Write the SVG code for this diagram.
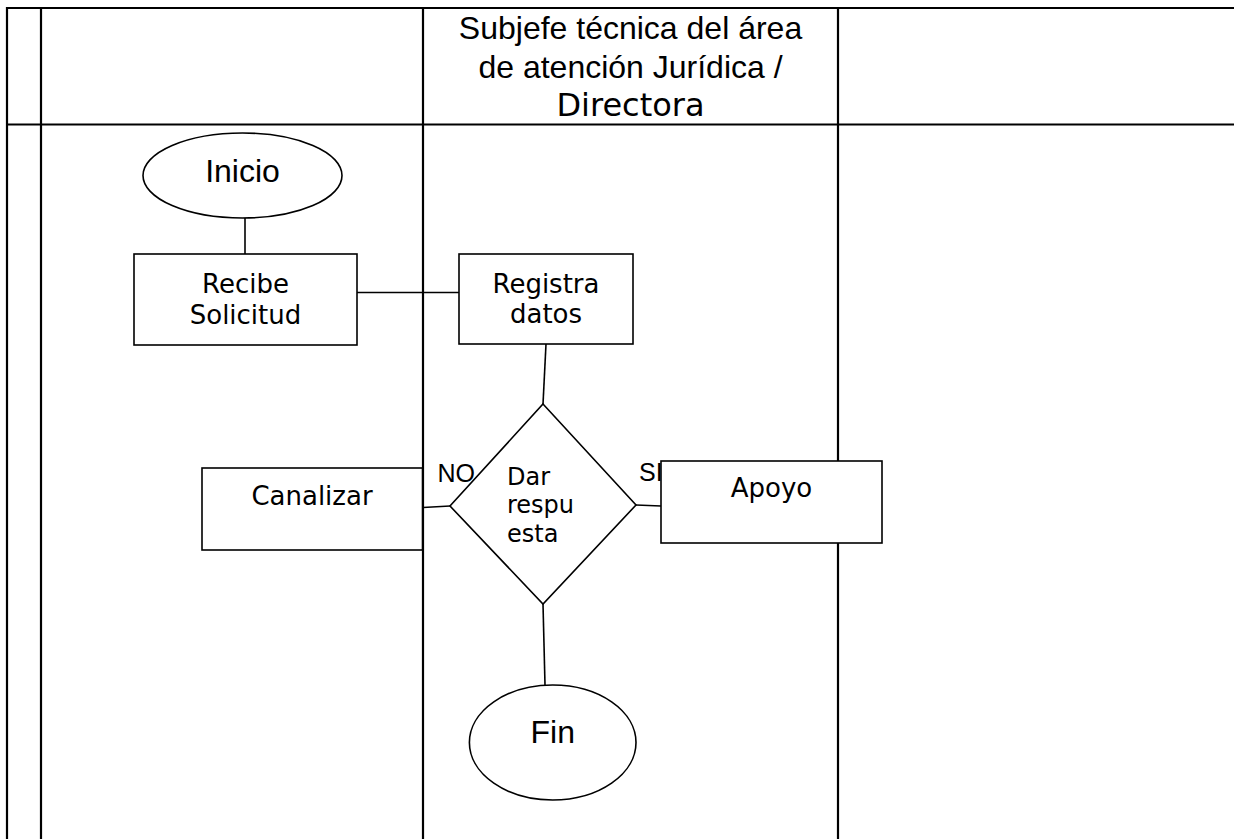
<svg xmlns="http://www.w3.org/2000/svg" width="1234" height="839" viewBox="0 0 1234 839">
<style>
.grid{stroke:#000;stroke-width:2.2;fill:none}
.shape{fill:#fff;stroke:#000;stroke-width:1.6}
.conn{stroke:#000;stroke-width:1.6;fill:none}
.arial{font-family:"Liberation Sans",Arial,sans-serif;fill:#000}
.dv{font-family:"DejaVu Sans",Verdana,sans-serif;fill:#000}
.hdr{font-size:32px;text-anchor:middle}
.big{font-size:32px;text-anchor:middle}
.box{font-size:26px;text-anchor:middle}
.lbl{font-size:25px}
</style>
<rect width="1234" height="839" fill="#fff"/>
<g id="table">
<line class="grid" x1="6" y1="8" x2="1234" y2="8"/>
<line class="grid" x1="6" y1="124.5" x2="1234" y2="124.5"/>
<line class="grid" x1="7" y1="7" x2="7" y2="839"/>
<line class="grid" x1="41" y1="7" x2="41" y2="839"/>
<line class="grid" x1="423" y1="7" x2="423" y2="839"/>
<line class="grid" x1="838" y1="7" x2="838" y2="839"/>
</g>
<g id="header">
<text class="arial hdr" x="630.5" y="39">Subjefe técnica del área</text>
<text class="arial hdr" x="630.5" y="78">de atención Jurídica /</text>
<text class="dv hdr" x="630.5" y="116">Directora</text>
</g>
<g id="connectors">
<line class="conn" x1="245" y1="218" x2="245" y2="254"/>
<line class="conn" x1="357" y1="292.5" x2="459" y2="292.5"/>
<line class="conn" x1="546" y1="344" x2="543" y2="404"/>
<line class="conn" x1="450" y1="506" x2="423" y2="507.5"/>
<line class="conn" x1="636" y1="505" x2="661" y2="506"/>
<line class="conn" x1="543" y1="604" x2="545" y2="685"/>
<text class="arial lbl" x="437.5" y="482">NO</text>
<text class="arial lbl" x="639" y="481">SI</text>
</g>
<g id="inicio">
<ellipse class="shape" cx="242.5" cy="175.5" rx="99.5" ry="42.5"/>
<text class="arial big" x="242.5" y="182">Inicio</text>
</g>
<g id="recibe">
<rect class="shape" x="134" y="254" width="223" height="91"/>
<text class="dv box" x="245.5" y="293">Recibe</text>
<text class="dv box" x="245.5" y="324">Solicitud</text>
</g>
<g id="registra">
<rect class="shape" x="459" y="254" width="174" height="90"/>
<text class="dv box" x="546" y="293">Registra</text>
<text class="dv box" x="546" y="323">datos</text>
</g>
<g id="decision">
<polygon class="shape" points="543,404 636,505 543,604 450,506"/>
<text class="dv" font-size="24" x="507" y="485">Dar</text>
<text class="dv" font-size="24" x="507" y="513">respu</text>
<text class="dv" font-size="24" x="507" y="542">esta</text>
</g>
<g id="canalizar">
<rect class="shape" x="202" y="468" width="220.5" height="82"/>
<text class="dv box" x="312" y="505">Canalizar</text>
</g>
<g id="apoyo">
<rect class="shape" x="661" y="461" width="221" height="82"/>
<text class="dv box" x="771.5" y="497">Apoyo</text>
</g>
<g id="fin">
<ellipse class="shape" cx="552.7" cy="742.5" rx="83.3" ry="57.5"/>
<text class="arial big" x="552.7" y="742.5">Fin</text>
</g>
</svg>
